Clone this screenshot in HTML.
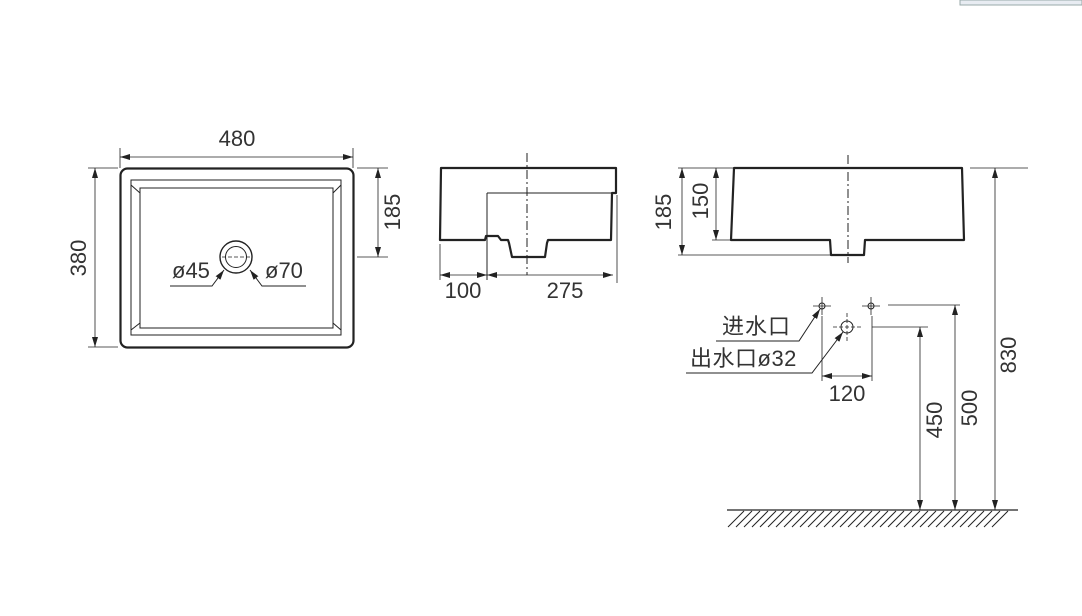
<!DOCTYPE html>
<html><head><meta charset="utf-8"><style>
html,body{margin:0;padding:0;background:#fff;}
svg{display:block;}
text{font-family:"Liberation Sans","Noto Sans CJK SC",sans-serif;fill:#333;}
</style></head><body>
<svg width="1082" height="616" viewBox="0 0 1082 616" xmlns="http://www.w3.org/2000/svg">
<defs>
<marker id="a" viewBox="0 0 10 6" refX="10" refY="3" markerWidth="10" markerHeight="6" orient="auto-start-reverse" markerUnits="userSpaceOnUse">
<path d="M0,0 L10,3 L0,6 Z" fill="#222"/></marker>
</defs>
<rect x="960" y="0" width="122" height="5" fill="#e8ecf2" stroke="#9aa" stroke-width="1"/>
<g stroke="#222" fill="none">
<rect x="120.5" y="168.5" width="233" height="179" rx="7" stroke-width="2.2"/>
<rect x="131" y="180" width="210" height="155" stroke-width="1"/>
<rect x="140" y="188" width="193" height="140" stroke-width="1"/>
<line x1="131" y1="185" x2="140" y2="193" stroke-width="1"/>
<line x1="341" y1="185" x2="333" y2="193" stroke-width="1"/>
<line x1="131" y1="330" x2="140" y2="323" stroke-width="1"/>
<line x1="341" y1="330" x2="333" y2="323" stroke-width="1"/>
<circle cx="236" cy="257" r="16" stroke-width="1.4"/>
<circle cx="236" cy="257" r="10.5" stroke-width="1"/>
<line x1="222" y1="257" x2="250" y2="257" stroke-width="0.8" stroke-dasharray="4 2"/>
<polyline points="170,286 212,286 224,270" stroke-width="1" marker-end="url(#a)"/>
<polyline points="306,286 262,286 250,270" stroke-width="1" marker-end="url(#a)"/>
<line x1="120" y1="148" x2="120" y2="168" stroke-width="0.8"/>
<line x1="353" y1="148" x2="353" y2="168" stroke-width="0.8"/>
<line x1="120" y1="157" x2="353" y2="157" stroke-width="0.8" marker-start="url(#a)" marker-end="url(#a)"/>
<line x1="88" y1="168" x2="118" y2="168" stroke-width="0.8"/>
<line x1="88" y1="347" x2="118" y2="347" stroke-width="0.8"/>
<line x1="95" y1="168" x2="95" y2="347" stroke-width="0.8" marker-start="url(#a)" marker-end="url(#a)"/>
<line x1="357" y1="168" x2="388" y2="168" stroke-width="0.8"/>
<line x1="357" y1="257" x2="388" y2="257" stroke-width="0.8"/>
<line x1="378" y1="168" x2="378" y2="257" stroke-width="0.8" marker-start="url(#a)" marker-end="url(#a)"/>

<path d="M441,168 L616,168 L616,193 L612,193 L611,240 L548,240 L547,243 L545,257 L512,257 L509,243 L508,240 L501,240 L498,236 L486,236 L485,240 L440,240 Z" stroke-width="2.2" stroke-linejoin="round"/>
<line x1="487" y1="193" x2="612" y2="193" stroke-width="1"/>
<line x1="487" y1="193" x2="487" y2="280" stroke-width="1"/>
<line x1="527" y1="153" x2="527" y2="275" stroke-width="1" stroke-dasharray="9 3 2 3"/>
<line x1="440" y1="244" x2="440" y2="280" stroke-width="0.8"/>
<line x1="617" y1="195" x2="617" y2="283" stroke-width="0.8"/>
<line x1="440" y1="275" x2="487" y2="275" stroke-width="0.8" marker-start="url(#a)" marker-end="url(#a)"/>
<line x1="487" y1="275" x2="613" y2="275" stroke-width="0.8" marker-start="url(#a)" marker-end="url(#a)"/>

<path d="M734,168 L962,168 L964,240 L865,240 L864,255 L831,255 L830,240 L731,240 Z" stroke-width="2.2" stroke-linejoin="round"/>
<line x1="848" y1="155" x2="848" y2="263" stroke-width="1" stroke-dasharray="9 3 2 3"/>
<line x1="678" y1="168" x2="733" y2="168" stroke-width="0.8"/>
<line x1="712" y1="240" x2="731" y2="240" stroke-width="0.8"/>
<line x1="678" y1="255" x2="830" y2="255" stroke-width="0.8"/>
<line x1="682" y1="168" x2="682" y2="255" stroke-width="0.8" marker-start="url(#a)" marker-end="url(#a)"/>
<line x1="716" y1="168" x2="716" y2="240" stroke-width="0.8" marker-start="url(#a)" marker-end="url(#a)"/>

<line x1="970" y1="168" x2="1028" y2="168" stroke-width="0.8"/>
<line x1="995" y1="168" x2="995" y2="510" stroke-width="0.8" marker-start="url(#a)" marker-end="url(#a)"/>
<line x1="888" y1="305" x2="960" y2="305" stroke-width="0.8"/>
<line x1="955" y1="305" x2="955" y2="510" stroke-width="0.8" marker-start="url(#a)" marker-end="url(#a)"/>
<line x1="872" y1="327" x2="928" y2="327" stroke-width="0.8"/>
<line x1="920" y1="327" x2="920" y2="510" stroke-width="0.8" marker-start="url(#a)" marker-end="url(#a)"/>

<circle cx="822" cy="306" r="3" stroke-width="1"/>
<line x1="813" y1="306" x2="831" y2="306" stroke-width="0.8"/>
<line x1="822" y1="297" x2="822" y2="315" stroke-width="0.8"/>
<circle cx="871" cy="306" r="3" stroke-width="1"/>
<line x1="862" y1="306" x2="880" y2="306" stroke-width="0.8"/>
<line x1="871" y1="297" x2="871" y2="315" stroke-width="0.8"/>
<circle cx="847" cy="327" r="6" stroke-width="1"/>
<line x1="833" y1="327" x2="861" y2="327" stroke-width="0.8" stroke-dasharray="4 2"/>
<line x1="847" y1="313" x2="847" y2="341" stroke-width="0.8" stroke-dasharray="4 2"/>
<line x1="822" y1="316" x2="822" y2="381" stroke-width="0.8"/>
<line x1="872" y1="316" x2="872" y2="381" stroke-width="0.8"/>
<line x1="822" y1="376" x2="872" y2="376" stroke-width="0.8" marker-start="url(#a)" marker-end="url(#a)"/>
<polyline points="716,341 799,341 820,309" stroke-width="1" marker-end="url(#a)"/>
<polyline points="686,373 812,373 843,332" stroke-width="1" marker-end="url(#a)"/>

<line x1="727" y1="510" x2="1018" y2="510" stroke-width="1.2"/>
<path d="M728,527 L744,511 M736,527 L752,511 M744,527 L760,511 M752,527 L768,511 M760,527 L776,511 M768,527 L784,511 M776,527 L792,511 M784,527 L800,511 M792,527 L808,511 M800,527 L816,511 M808,527 L824,511 M816,527 L832,511 M824,527 L840,511 M832,527 L848,511 M840,527 L856,511 M848,527 L864,511 M856,527 L872,511 M864,527 L880,511 M872,527 L888,511 M880,527 L896,511 M888,527 L904,511 M896,527 L912,511 M904,527 L920,511 M912,527 L928,511 M920,527 L936,511 M928,527 L944,511 M936,527 L952,511 M944,527 L960,511 M952,527 L968,511 M960,527 L976,511 M968,527 L984,511 M976,527 L992,511 M984,527 L1000,511 M992,527 L1008,511" stroke-width="1"/>
</g>
<g font-size="22">
<text x="237" y="146" text-anchor="middle">480</text>
<text transform="translate(86,258) rotate(-90)" text-anchor="middle">380</text>
<text transform="translate(400,212) rotate(-90)" text-anchor="middle">185</text>
<text x="172" y="278">ø45</text>
<text x="265" y="278">ø70</text>
<text x="463" y="298" text-anchor="middle">100</text>
<text x="565" y="298" text-anchor="middle">275</text>
<text transform="translate(671,212) rotate(-90)" text-anchor="middle">185</text>
<text transform="translate(708,201) rotate(-90)" text-anchor="middle">150</text>
<text transform="translate(1016,355) rotate(-90)" text-anchor="middle">830</text>
<text transform="translate(977,408) rotate(-90)" text-anchor="middle">500</text>
<text transform="translate(942,420) rotate(-90)" text-anchor="middle">450</text>
<text x="847" y="401" text-anchor="middle">120</text>
<text x="722" y="334" letter-spacing="1">进水口</text>
<text x="690" y="366" letter-spacing="0.5">出水口ø32</text>
</g>
</svg>
</body></html>
